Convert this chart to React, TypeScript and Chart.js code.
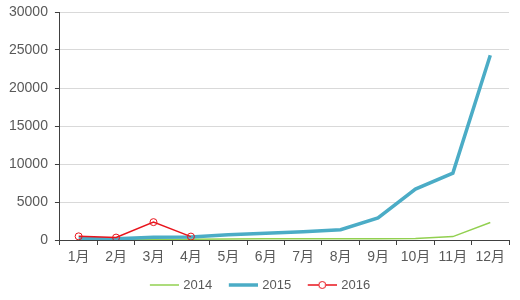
import React, { useEffect, useRef } from 'react';
import { Chart, registerables } from 'chart.js';

Chart.register(...registerables);

const categories = ['1月', '2月', '3月', '4月', '5月', '6月', '7月', '8月', '9月', '10月', '11月', '12月'];
const seriesNames = ['2014', '2015', '2016'];
const values2014 = [50, 50, 80, 100, 120, 150, 150, 150, 150, 200, 450, 2300];
const values2015 = [150, 150, 350, 400, 700, 900, 1100, 1350, 2900, 6700, 8800, 24300];
const values2016 = [480, 320, 2350, 450];
const yTicks = [0, 5000, 10000, 15000, 20000, 25000, 30000];

const GREEN = '#92d050';
const BLUE = '#4bacc6';
const RED = '#e8141c';
const TEXT = '#595959';
const FONT = "'Liberation Sans', Arial, 'Noto Sans CJK SC', sans-serif";

function legendIcon(color: string, width: number, marker: boolean): HTMLCanvasElement {
  const c = document.createElement('canvas');
  c.width = 40;
  c.height = 10;
  const ctx = c.getContext('2d')!;
  ctx.strokeStyle = color;
  ctx.lineWidth = width;
  ctx.beginPath();
  ctx.moveTo(11, 5);
  ctx.lineTo(40, 5);
  ctx.stroke();
  if (marker) {
    ctx.lineWidth = 1;
    ctx.fillStyle = '#ffffff';
    ctx.beginPath();
    ctx.arc(25.5, 5, 3.5, 0, Math.PI * 2);
    ctx.fill();
    ctx.stroke();
  }
  return c;
}

export default function App() {
  const ref = useRef<HTMLCanvasElement | null>(null);

  useEffect(() => {
    document.body.style.margin = '0';
    const icons = [legendIcon(GREEN, 1.5, false), legendIcon(BLUE, 3.5, false), legendIcon(RED, 1.5, true)];
    const colors = [GREEN, BLUE, RED];
    const chart = new Chart(ref.current!, {
      type: 'line',
      data: {
        labels: categories,
        datasets: [
          {
            label: seriesNames[0],
            data: values2014,
            borderColor: GREEN,
            backgroundColor: GREEN,
            borderWidth: 1.5,
            pointRadius: 0,
            tension: 0,
            order: 3,
          },
          {
            label: seriesNames[1],
            data: values2015,
            borderColor: BLUE,
            backgroundColor: BLUE,
            borderWidth: 3.5,
            pointRadius: 0,
            tension: 0,
            order: 2,
          },
          {
            label: seriesNames[2],
            data: values2016,
            borderColor: RED,
            backgroundColor: 'rgba(255,255,255,0)',
            borderWidth: 1.5,
            pointRadius: 3.5,
            pointBorderWidth: 1,
            pointBorderColor: RED,
            pointBackgroundColor: 'rgba(255,255,255,0)',
            tension: 0,
            order: 1,
          },
        ],
      },
      options: {
        animation: false,
        responsive: false,
        maintainAspectRatio: false,
        layout: { padding: { left: 2, right: 11, top: 12, bottom: -1.5 } },
        plugins: {
          tooltip: { enabled: false },
          legend: {
            position: 'bottom',
            labels: {
              usePointStyle: true,
              pointStyleWidth: 36,
              padding: 7.5,
              color: TEXT,
              font: { family: FONT, size: 13 },
              generateLabels: () =>
                seriesNames.map((name, i) => ({
                  text: name,
                  pointStyle: icons[i],
                  fillStyle: colors[i],
                  strokeStyle: colors[i],
                  lineWidth: 0,
                  fontColor: TEXT,
                  hidden: false,
                  datasetIndex: i,
                })),
            },
          },
        },
        scales: {
          x: {
            offset: true,
            afterFit: (axis: any) => {
              axis.height += 1.2;
            },
            grid: {
              display: true,
              drawOnChartArea: false,
              drawTicks: true,
              tickLength: 5,
              offset: true,
              color: '#404040',
            },
            border: { display: true, color: '#404040', width: 1 },
            ticks: {
              color: TEXT,
              font: { family: FONT, size: 14 },
              maxRotation: 0,
              autoSkip: false,
              padding: 4,
            },
          },
          y: {
            min: 0,
            max: 30000,
            afterBuildTicks: (axis: any) => {
              axis.ticks = yTicks.map((v) => ({ value: v }));
            },
            afterFit: (axis: any) => {
              axis.paddingTop = 0;
            },
            grid: {
              color: '#d9d9d9',
              lineWidth: 1,
              tickLength: 5,
              tickColor: '#404040',
            },
            border: { display: true, color: '#404040', width: 1 },
            ticks: {
              color: TEXT,
              font: { family: FONT, size: 14 },
              padding: 7,
              callback: (v: any) => String(v),
            },
          },
        },
      },
    });
    return () => chart.destroy();
  }, []);

  return (
    <div style={{ position: 'absolute', left: 0, top: 0, width: 520, height: 300 }}>
      <canvas ref={ref} width={520} height={300} style={{ width: 520, height: 300 }} />
    </div>
  );
}
